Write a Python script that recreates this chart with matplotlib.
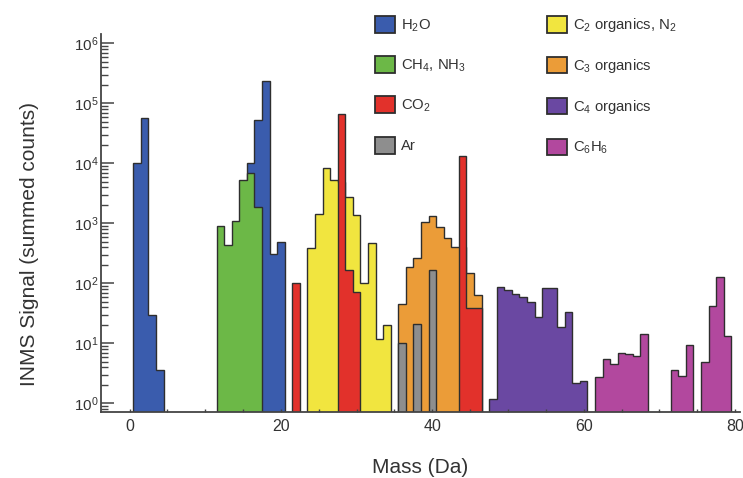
import numpy as np
import matplotlib
matplotlib.use('Agg')
from matplotlib import pyplot as plt
from matplotlib.patches import Patch
from matplotlib.ticker import LogLocator, MultipleLocator, NullFormatter

plt.rcParams['font.family'] = ['Liberation Sans', 'DejaVu Sans']
plt.rcParams['mathtext.fontset'] = 'custom'
plt.rcParams['mathtext.rm'] = 'Liberation Sans'
plt.rcParams['mathtext.it'] = 'Liberation Sans:italic'
plt.rcParams['mathtext.bf'] = 'Liberation Sans:bold'

# summed counts per mass bin (Da)
h2o_mass = [1, 2, 3, 4, 16, 17, 18, 19, 20]
h2o_counts = [1.0e4, 5.7e4, 30, 3.6, 1.0e4, 5.3e4, 2.4e5, 310, 500]

ch4_mass = [12, 13, 14, 15, 16, 17]
ch4_counts = [890, 435, 1100, 5300, 7000, 1850]

c2_mass = [24, 25, 26, 27, 28, 29, 30, 31, 32, 33, 34]
c2_counts = [390, 1440, 8300, 5400, 5000, 2800, 1380, 100, 467, 11.7, 20.4]

co2_mass = [22, 28, 29, 30, 44, 45, 46]
co2_counts = [100, 6.7e4, 167, 73, 1.33e4, 39, 39]

c3_mass = [36, 37, 38, 39, 40, 41, 42, 43, 44, 45, 46]
c3_counts = [46, 188, 270, 1070, 1330, 880, 565, 410, 400, 148, 64]

ar_mass = [36, 38, 40]
ar_counts = [10, 21, 168]

c4_mass = [48, 49, 50, 51, 52, 53, 54, 55, 56, 57, 58, 59, 60]
c4_counts = [1.2, 86, 78, 68, 60, 50, 28, 83, 83, 19, 33, 2.2, 2.4]

c6h6_mass = [62, 63, 64, 65, 66, 67, 68, 72, 73, 74, 76, 77, 78, 79]
c6h6_counts = [2.8, 5.5, 4.6, 7.0, 6.7, 6.2, 14.4, 3.6, 2.9, 9.4, 4.9, 42, 130, 13.5]

species = [
    ('H$_2$O', h2o_mass, h2o_counts, '#3a5cad', 1.10),
    ('CH$_4$, NH$_3$', ch4_mass, ch4_counts, '#6cb847', 1.20),
    ('CO$_2$', co2_mass, co2_counts, '#e2312b', 1.60),
    ('Ar', ar_mass, ar_counts, '#8e8e8e', 1.50),
    ('C$_2$ organics, N$_2$', c2_mass, c2_counts, '#f1e53f', 1.30),
    ('C$_3$ organics', c3_mass, c3_counts, '#eb9c38', 1.40),
    ('C$_4$ organics', c4_mass, c4_counts, '#6a48a2', 1.30),
    ('C$_6$H$_6$', c6h6_mass, c6h6_counts, '#b2489e', 1.30),
]

edge = '#2e2e2e'
text_col = '#333333'


def draw_species(ax, masses, counts, color, z):
    masses = np.asarray(masses)
    counts = np.asarray(counts, dtype=float)
    breaks = np.where(np.diff(masses) > 1)[0] + 1
    for m, c in zip(np.split(masses, breaks), np.split(counts, breaks)):
        edges = np.append(m - 0.5, m[-1] + 0.5)
        ax.stairs(c, edges, baseline=1e-3, fill=True, facecolor=color,
                  edgecolor=edge, linewidth=1.0, zorder=z)


fig = plt.figure(figsize=(7.43, 4.78), dpi=100)
ax = fig.add_axes([0.136, 0.138, 0.86, 0.791])

for name, m, c, col, z in species:
    draw_species(ax, m, c, col, z)

ax.set_yscale('log')
ax.set_xlim(-3.76, 80.65)
ax.set_ylim(0.72, 1.44e6)
ax.set_axisbelow(False)

ax.spines['top'].set_visible(False)
ax.spines['right'].set_visible(False)
for s in ('left', 'bottom'):
    ax.spines[s].set_linewidth(1.3)
    ax.spines[s].set_color('#444444')

ax.yaxis.set_major_locator(LogLocator(base=10, numticks=10))
ax.yaxis.set_minor_locator(LogLocator(base=10, subs=np.arange(2, 10), numticks=20))
ax.yaxis.set_minor_formatter(NullFormatter())
ax.xaxis.set_major_locator(MultipleLocator(20))
ax.xaxis.set_minor_locator(MultipleLocator(5))

ax.tick_params(axis='y', which='major', direction='in', length=9.5, width=1.1,
               color='#444444', labelsize=11, labelcolor=text_col, pad=2)
ax.tick_params(axis='y', which='minor', direction='in', length=5, width=1.0,
               color='#444444')
ax.tick_params(axis='x', which='both', direction='in', length=2.5, width=1.0,
               color='#444444', labelsize=11.5, labelcolor=text_col, pad=5)

ax.set_xlabel('Mass (Da)', fontsize=15, color=text_col, labelpad=17)
ax.set_ylabel('INMS Signal (summed counts)', fontsize=15, color=text_col)
ax.yaxis.set_label_coords(-0.097, 0.445)

handles = [Patch(facecolor=col, edgecolor=edge, linewidth=1.3) for _, _, _, col, _ in species]
labels = [name for name, _, _, _, _ in species]

leg_kw = dict(frameon=False, fontsize=10.7, handlelength=1.36, handleheight=1.36,
              labelspacing=1.52, handletextpad=0.38, borderpad=0, borderaxespad=0,
              loc='upper left', labelcolor=text_col)
fig.legend(handles[:4], labels[:4], bbox_to_anchor=(0.5047, 0.967), **leg_kw)
fig.legend(handles[4:], labels[4:], bbox_to_anchor=(0.736, 0.967), **leg_kw)

fig.savefig('out.png', dpi=100)
